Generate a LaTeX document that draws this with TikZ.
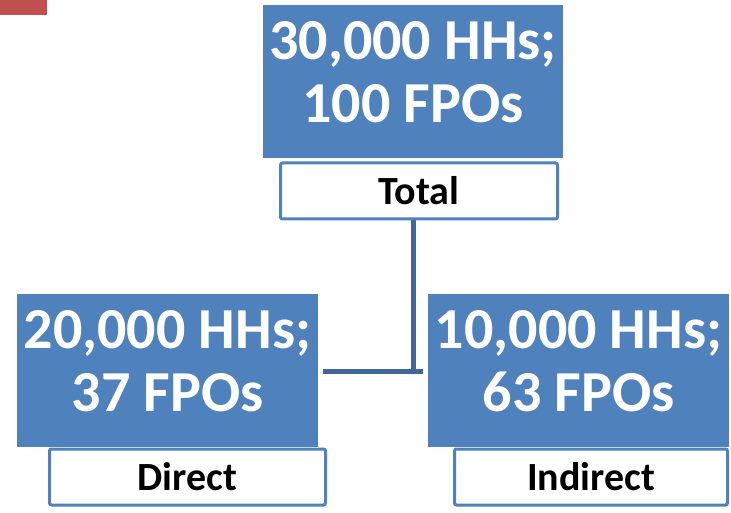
\documentclass[tikz,border=0pt]{standalone}
\usepackage{fontspec}
\setmainfont{Carlito}
\usetikzlibrary{backgrounds}
\pgfdeclarelayer{edgelayer}
\pgfdeclarelayer{nodelayer}
\pgfsetlayers{edgelayer,nodelayer,main}
\definecolor{boxblue}{HTML}{4F81BD}
\definecolor{lineblue}{HTML}{41679A}
\definecolor{tabred}{HTML}{C0504D}
\tikzstyle{none}=[inner sep=0pt]
\tikzstyle{count}=[rectangle,fill=boxblue,text=white,align=center,inner sep=0pt,text depth=20pt,
  minimum width=301pt,minimum height=153pt,font=\fontsize{58}{63}\selectfont\bfseries]
\tikzstyle{tag}=[rectangle,draw=boxblue,line width=3pt,rounded corners=2pt,fill=white,
  minimum height=56pt,inner sep=0pt,font=\fontsize{40}{44}\selectfont\bfseries]

\begin{document}
\begin{tikzpicture}[x=1pt,y=1pt]
	\useasboundingbox (0,0) rectangle (731,512);
	\fill[tabred] (0,497) rectangle (47,512);
	\begin{pgfonlayer}{nodelayer}
		\node [style=count,minimum width=300pt] (top) at (413, 430.5) {30,000 HHs;\\100 FPOs};
		\node [style=tag,minimum width=277pt] (total) at (419, 321) {Total};
		\node [style=count] (left) at (167.5, 141.5) {20,000 HHs;\\37 FPOs};
		\node [style=tag,minimum width=276pt] (direct) at (187.5, 35) {Direct};
		\node [style=count] (right) at (578.5, 141.5) {10,000 HHs;\\63 FPOs};
		\node [style=tag,minimum width=273pt] (indirect) at (591, 35) {Indirect};
		\coordinate (j) at (413, 141);
	\end{pgfonlayer}
	\begin{pgfonlayer}{edgelayer}
		\draw[lineblue,line width=5pt] (total.south -| j) to (j);
		\draw[lineblue,line width=5pt] ([xshift=5pt]left.east |- j) to ([xshift=-5pt]right.west |- j);
	\end{pgfonlayer}
\end{tikzpicture}
\end{document}
